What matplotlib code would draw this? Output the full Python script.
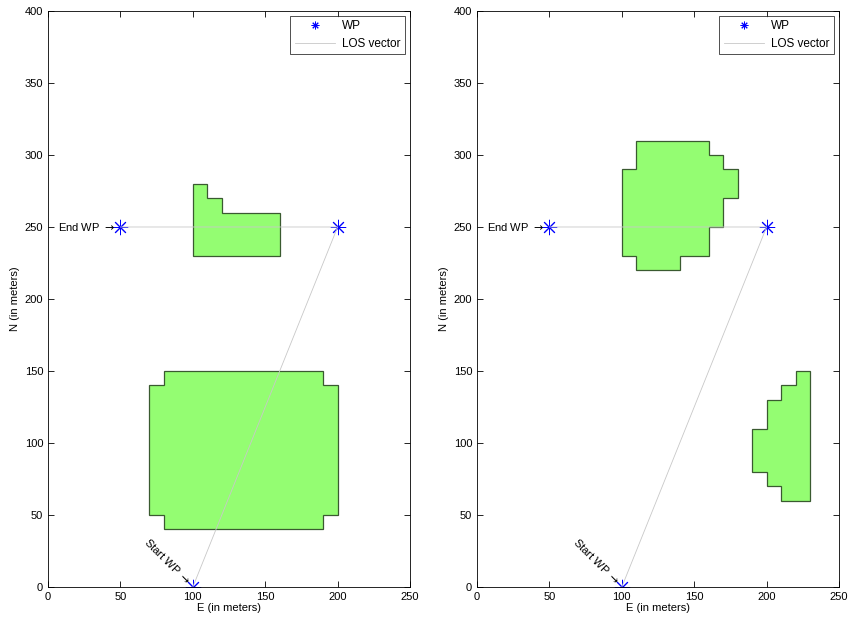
import matplotlib
matplotlib.use('Agg')
import matplotlib.pyplot as plt

plt.rcParams['font.family'] = ['Liberation Sans', 'DejaVu Sans']
plt.rcParams['font.size'] = 8

# waypoints (E, N): start, turn, end
wp_e = [100, 200, 50]
wp_n = [0, 250, 250]

# obstacle outlines for each scenario
obs_left = [
    [(100, 230), (100, 280), (110, 280), (110, 270), (120, 270), (120, 260),
     (160, 260), (160, 230)],
    [(80, 40), (190, 40), (190, 50), (200, 50), (200, 140), (190, 140),
     (190, 150), (80, 150), (80, 140), (70, 140), (70, 50), (80, 50)],
]
obs_right = [
    [(110, 220), (140, 220), (140, 230), (160, 230), (160, 250), (170, 250),
     (170, 270), (180, 270), (180, 290), (170, 290), (170, 300), (160, 300),
     (160, 310), (110, 310), (110, 290), (100, 290), (100, 230), (110, 230)],
    [(210, 60), (230, 60), (230, 150), (220, 150), (220, 140), (210, 140),
     (210, 130), (200, 130), (200, 110), (190, 110), (190, 80), (200, 80),
     (200, 70), (210, 70)],
]

xticks = [0, 50, 100, 150, 200, 250]
yticks = list(range(0, 401, 50))

fig = plt.figure(figsize=(8.53, 6.24), dpi=100)
ax1 = fig.add_axes([0.0563, 0.0593, 0.4244, 0.9231])
ax2 = fig.add_axes([0.5592, 0.0593, 0.4244, 0.9231])

for ax, obstacles in [(ax1, obs_left), (ax2, obs_right)]:
    for poly in obstacles:
        ax.add_patch(plt.Polygon(poly, closed=True, facecolor='#94fd72',
                                 edgecolor='#3a5a30', linewidth=0.9))
    ax.plot(wp_e, wp_n, linestyle='none', marker=(8, 2, 0), markersize=11,
            color='blue', markeredgewidth=0.7, label='WP')
    ax.plot(wp_e, wp_n, color='#c8c8c8', linewidth=0.6, label='LOS vector')

    ax.annotate(r'End WP $\rightarrow$', xy=(wp_e[2], wp_n[2]), xytext=(-4, 0),
                textcoords='offset points', ha='right', va='center', fontsize=8)
    ax.annotate(r'Start WP $\rightarrow$', xy=(wp_e[0], wp_n[0]), xytext=(-3, 3),
                textcoords='offset points', ha='right', va='center',
                rotation=-45, rotation_mode='anchor', fontsize=8)

    ax.set_xlim(0, 250)
    ax.set_ylim(0, 400)
    ax.set_xticks(xticks)
    ax.set_yticks(yticks)
    ax.tick_params(direction='in', top=True, right=True, length=4,
                   width=0.6, labelsize=8)
    for s in ax.spines.values():
        s.set_linewidth(0.6)
    ax.set_xlabel('E (in meters)', fontsize=8, labelpad=1)
    ax.set_ylabel('N (in meters)', fontsize=8, labelpad=3)
    leg = ax.legend(loc='upper right', markerscale=0.5, fancybox=False,
                    edgecolor='black', fontsize=8.5, handlelength=3.4,
                    borderpad=0.4, labelspacing=0.45, handletextpad=0.6,
                    borderaxespad=0.4)
    leg.get_frame().set_linewidth(0.6)

plt.savefig('out.png', dpi=100)
